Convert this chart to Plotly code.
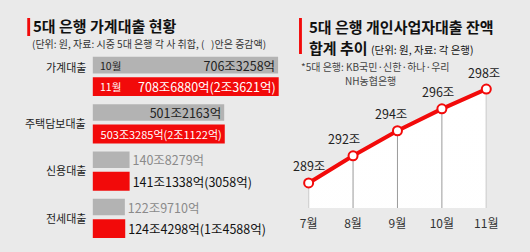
import plotly.graph_objects as go

W, H = 530, 252
FONT = "Noto Sans CJK KR"
BG = "#eaeaea"
RED = "#f20a0a"
GRAY = "#b3b3b3"

# ---------------- data: left chart (단위: 조원) ----------------
loan_types = ["가계대출", "주택담보대출", "신용대출", "전세대출"]
oct_vals = [706.3258, 501.2163, 140.8279, 122.9710]
nov_vals = [708.6880, 503.3285, 141.1338, 124.4298]
oct_text = ["706조3258억", "501조2163억", "140조8279억", "122조9710억"]
nov_text = ["708조6880억(2조3621억)", "503조3285억(2조1122억)",
            "141조1338억(3058억)", "124조4298억(1조4588억)"]
bar_months = ["10월", "11월"]

# ---------------- data: right chart (단위: 조원) ----------------
months = ["7월", "8월", "9월", "10월", "11월"]
biz_vals = [289.0, 291.6, 294.0, 296.1, 298.0]
biz_text = ["289조", "292조", "294조", "296조", "298조"]


def px(x):
    return x / W


def py(y):
    return 1 - y / H


# layout geometry
BAND = 47.33            # pixel height of one category band (left chart)
Y2_MIN, Y2_MAX = 286.6, 300.78
G_OFF, G_W = -0.40, 0.35
R_OFF, R_W = 0.03, 0.40

fig = go.Figure()

fig.add_trace(go.Bar(
    y=loan_types, x=oct_vals, orientation="h", name=bar_months[0],
    marker=dict(color=GRAY, line=dict(width=0)),
    offset=G_OFF, width=G_W,
    text=oct_text, textposition=["inside", "inside", "outside", "outside"],
    insidetextanchor="end", constraintext="none", cliponaxis=False,
    textfont=dict(family=FONT, size=12.5, color=["#222", "#222", "#8a8a8a", "#8a8a8a"]),
    xaxis="x", yaxis="y", showlegend=False, hoverinfo="skip",
))
fig.add_trace(go.Bar(
    y=loan_types, x=nov_vals, orientation="h", name=bar_months[1],
    marker=dict(color=RED, line=dict(width=0)),
    offset=R_OFF, width=R_W,
    text=nov_text, textposition=["inside", "inside", "outside", "outside"],
    insidetextanchor="end", constraintext="none", cliponaxis=False,
    textfont=dict(family=FONT, size=[12.5, 11, 12.5, 12.5],
                  color=["#fff", "#fff", "#111", "#111"]),
    xaxis="x", yaxis="y", showlegend=False, hoverinfo="skip",
))

# right chart: white area, vertical guides, red line
fig.add_trace(go.Scatter(
    x=months, y=biz_vals, mode="none", fill="tozeroy",
    fillgradient=dict(type="vertical", colorscale=[[0, "#f3f3f3"], [1, "#ffffff"]]),
    xaxis="x2", yaxis="y2", showlegend=False, hoverinfo="skip",
))
vx, vy = [], []
for m, v in zip(months, biz_vals):
    vx += [m, m, None]
    vy += [Y2_MIN, v, None]
fig.add_trace(go.Scatter(
    x=vx, y=vy, mode="lines", line=dict(color="#9a9a9a", width=1),
    xaxis="x2", yaxis="y2", showlegend=False, hoverinfo="skip",
))
fig.add_trace(go.Scatter(
    x=months, y=biz_vals, mode="lines+markers",
    line=dict(color=RED, width=4),
    marker=dict(size=9, color="white", line=dict(color=RED, width=2)),
    cliponaxis=False,
    xaxis="x2", yaxis="y2", showlegend=False, hoverinfo="skip",
))

annotations = []
# category labels
for i, cat in enumerate(loan_types):
    annotations.append(dict(
        x=0, y=cat, xref="x", yref="y", xanchor="right", yanchor="middle",
        xshift=-5, yshift=9 if i == 0 else 0, showarrow=False, text=cat,
        font=dict(family=FONT, size=11, color="#222"),
    ))
# month labels inside first bars
g_center = (G_OFF + G_W / 2) * BAND
r_center = (R_OFF + R_W / 2) * BAND
annotations.append(dict(
    x=0, y=loan_types[0], xref="x", yref="y", xanchor="left", yanchor="middle",
    xshift=5, yshift=-g_center, showarrow=False, text=bar_months[0],
    font=dict(family=FONT, size=10.5, color="#222"),
))
annotations.append(dict(
    x=0, y=loan_types[0], xref="x", yref="y", xanchor="left", yanchor="middle",
    xshift=5, yshift=-r_center, showarrow=False, text=bar_months[1],
    font=dict(family=FONT, size=10.5, color="#fff"),
))
# point value labels
label_dx = [0, -9, -6, -4, -2]
for m, v, t, dx in zip(months, biz_vals, biz_text, label_dx):
    annotations.append(dict(
        x=m, y=v, xref="x2", yref="y2", xanchor="center", yanchor="middle",
        xshift=dx, yshift=17, showarrow=False, text=t,
        font=dict(family=FONT, size=12.5, color="#222"),
    ))

# titles
annotations += [
    dict(x=px(23), y=py(26), xref="paper", yref="paper", xanchor="left", yanchor="middle",
         showarrow=False, text="<b>5대 은행 가계대출 현황</b>",
         font=dict(family=FONT, size=15, color="#111")),
    dict(x=px(22), y=py(43), xref="paper", yref="paper", xanchor="left", yanchor="middle",
         showarrow=False,
         text="(단위: 원, 자료: 시중 5대 은행 각 사 취합, (\u00a0\u00a0\u00a0)안은 증감액)",
         font=dict(family=FONT, size=10, color="#333")),
    dict(x=px(310), y=py(27), xref="paper", yref="paper", xanchor="left", yanchor="middle",
         showarrow=False, text="<b>5대 은행 개인사업자대출 잔액</b>",
         font=dict(family=FONT, size=15, color="#111")),
    dict(x=px(310), y=py(47), xref="paper", yref="paper", xanchor="left", yanchor="middle",
         showarrow=False,
         text="<b>합계 추이</b> <span style='font-size:10.5px;font-weight:normal'>(단위: 원, 자료: 각 은행)</span>",
         font=dict(family=FONT, size=15, color="#111")),
    dict(x=px(302), y=py(67), xref="paper", yref="paper", xanchor="left", yanchor="middle",
         showarrow=False, text="*5대 은행: KB국민·신한·하나·우리",
         font=dict(family=FONT, size=10, color="#444")),
    dict(x=px(348), y=py(80), xref="paper", yref="paper", xanchor="left", yanchor="middle",
         showarrow=False, text="NH농협은행",
         font=dict(family=FONT, size=10, color="#444")),
]

shapes = [
    dict(type="rect", xref="paper", yref="paper", x0=px(19), x1=px(22), y0=py(36), y1=py(18),
         fillcolor=RED, line=dict(width=0)),
    dict(type="rect", xref="paper", yref="paper", x0=px(302), x1=px(305), y0=py(54), y1=py(18),
         fillcolor=RED, line=dict(width=0)),
]

fig.update_layout(
    width=W, height=H, margin=dict(l=0, r=0, t=0, b=0),
    paper_bgcolor=BG, plot_bgcolor="rgba(0,0,0,0)",
    barmode="overlay",
    font=dict(family=FONT),
    xaxis=dict(domain=[px(87), px(287)], range=[0, 200 / 0.2735], visible=False, fixedrange=True),
    yaxis=dict(domain=[py(241.4), py(52.1)], type="category", categoryorder="array",
               categoryarray=loan_types, range=[3.5, -0.5], visible=False, fixedrange=True),
    xaxis2=dict(domain=[px(312), px(497)], anchor="y2", type="category", range=[0, 4],
                showgrid=False, zeroline=False, showline=False, ticks="",
                ticklabelstandoff=7,
                tickfont=dict(family=FONT, size=12, color="#333"), fixedrange=True),
    yaxis2=dict(domain=[py(208), py(60)], anchor="x2", range=[Y2_MIN, Y2_MAX], visible=False,
                fixedrange=True),
    annotations=annotations,
    shapes=shapes,
)

fig.write_html("out.html")
